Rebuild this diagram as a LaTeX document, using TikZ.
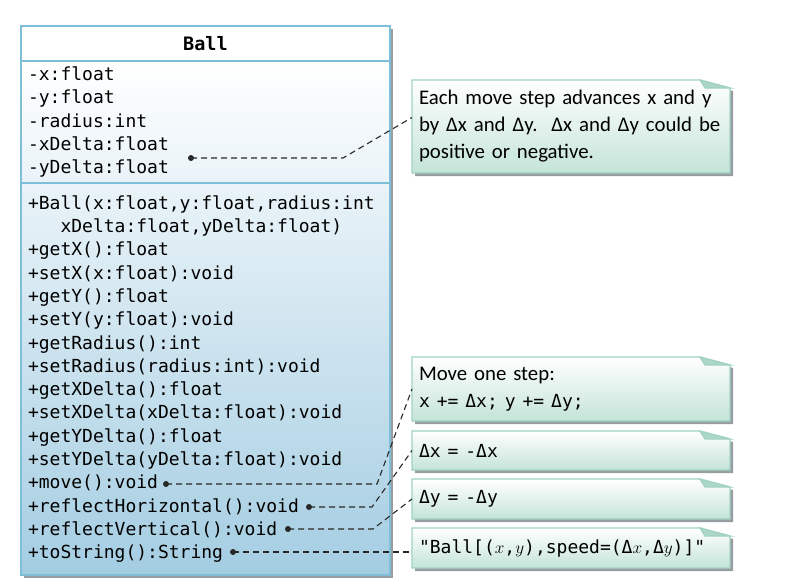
\documentclass[tikz,border=0pt]{standalone}
\usepackage{fontspec}
\setmainfont{Carlito}
\setmonofont{DejaVu Sans Mono}
\usetikzlibrary{positioning}
\usetikzlibrary{backgrounds}
\usetikzlibrary{calc}

\definecolor{umlline}{RGB}{126,190,216}
\definecolor{umlfill}{RGB}{164,205,226}
\definecolor{noteline}{RGB}{160,210,194}
\definecolor{notefill}{RGB}{196,228,216}
\definecolor{notefold}{RGB}{172,214,200}
\definecolor{shadowgray}{RGB}{150,158,162}
\definecolor{linkgray}{RGB}{40,40,40}

\newcommand{\monotext}[1]{{\ttfamily\fontsize{18}{25}\selectfont #1}}

\tikzset{
  compartment/.style={draw=umlline, line width=1.6pt, outer sep=0pt, inner xsep=7pt,
    text width=355pt, align=left, font=\ttfamily\fontsize{18}{23.3}\selectfont},
  classhead/.style={compartment, align=center, font=\ttfamily\bfseries\fontsize{18.5}{23.3}\selectfont},
  note/.style={outer sep=0pt, inner xsep=7pt, text width=304pt, align=left,
    font=\fontsize{20.8}{27}\selectfont},
  link/.style={draw=linkgray, line width=1.1pt, dash pattern=on 6pt off 4pt},
  dot/.style={fill=linkgray}
}

\begin{document}
\begin{tikzpicture}[x=1pt, y=-1pt, node distance=10pt]
	\useasboundingbox (0,0) rectangle (788,587);
	
	% class Ball
	\node[classhead, anchor=north west, minimum height=35pt] (head) at (21,26) {Ball};
	\node[compartment, below=0pt of head, minimum height=122pt] (attrs)
	{-x:float\\-y:float\\-radius:int\\-xDelta:float\\-yDelta:float};
	\node[compartment, below=0pt of attrs, minimum height=392pt] (ops)
	{+Ball(x:float,y:float,radius:int\\
		\phantom{+Ba}xDelta:float,yDelta:float)\\
		+getX():float\\
		+setX(x:float):void\\
		+getY():float\\
		+setY(y:float):void\\
		+getRadius():int\\
		+setRadius(radius:int):void\\
		+getXDelta():float\\
		+setXDelta(xDelta:float):void\\
		+getYDelta():float\\
		+setYDelta(yDelta:float):void\\
		+move():void\\
		+reflectHorizontal():void\\
		+reflectVertical():void\\
		+toString():String};
	
	% notes
	\node[note, anchor=north west, minimum height=93pt] (note1) at (412,80)
	{\mbox{Each move step advances x and y}\\\mbox{by Δx and Δy.\ \ Δx and Δy could be}\\\mbox{positive or negative.}};
	\node[note, anchor=north west, minimum height=64pt] (note2) at (412,357)
	{Move one step:\\\monotext{x += Δx; y += Δy;}};
	\node[note, below=of note2, minimum height=39pt] (note3) {\monotext{Δx = -Δx}};
	\node[note, below=9pt of note3, minimum height=40pt] (note4) {\monotext{Δy = -Δy}};
	\node[note, below=9pt of note4, minimum height=40pt] (note5)
	{\monotext{"Ball[($x$,$y$),speed=(Δ$x$,Δ$y$)]"}};
	
	\begin{scope}[on background layer]
		\fill[shadowgray] ([shift={(3pt,-3pt)}]head.north west) rectangle ([shift={(3pt,-3pt)}]ops.south east);
		\fill[white] (head.north west) rectangle (head.south east);
		\shade[top color=white, bottom color=umlfill] (attrs.north west) rectangle (ops.south east);
		\foreach \n in {note1,note2,note3,note4,note5} {
			\fill[shadowgray] ([shift={(3pt,-3pt)}]\n.north west) -- ([shift={(-27pt,-3pt)}]\n.north east)
			-- ([shift={(3pt,-11pt)}]\n.north east) -- ([shift={(3pt,-3pt)}]\n.south east)
			-- ([shift={(3pt,-3pt)}]\n.south west) -- cycle;
			\shadedraw[top color=white, bottom color=notefill, draw=noteline, line width=1.2pt]
			(\n.north west) -- ([xshift=-30pt]\n.north east) -- ([yshift=-8pt]\n.north east)
			-- (\n.south east) -- (\n.south west) -- cycle;
			\filldraw[fill=notefold, draw=noteline, line width=1.2pt] ([xshift=-30pt]\n.north east)
			-- ([yshift=-8pt]\n.north east) -- ([xshift=-25pt,yshift=-8pt]\n.north east) -- cycle;
		}
	\end{scope}
	
	% anchors of the note links
	\coordinate (dotattr) at (191,158);
	\coordinate (dotmove) at (166,484);
	\coordinate (dothor) at (309,507);
	\coordinate (dotver) at (288,529);
	\coordinate (dotstr) at (233,552);
	
	\draw[link] (dotattr) -- ++(152,0) -- ([yshift=9pt]note1.west);
	\draw[link] (dotmove) -- ++(211,0) -- (note2.west);
	\draw[link] (dothor) -- ++(63,0) -- (note3.west);
	\draw[link] (dotver) -- ++(85,0) -- (note4.west);
	\draw[link] (dotstr) -- (dotstr -| note5.west);
	\foreach \d in {dotattr,dotmove,dothor,dotver,dotstr}
	\fill[dot] (\d) circle[radius=3pt];
	
\end{tikzpicture}
\end{document}
